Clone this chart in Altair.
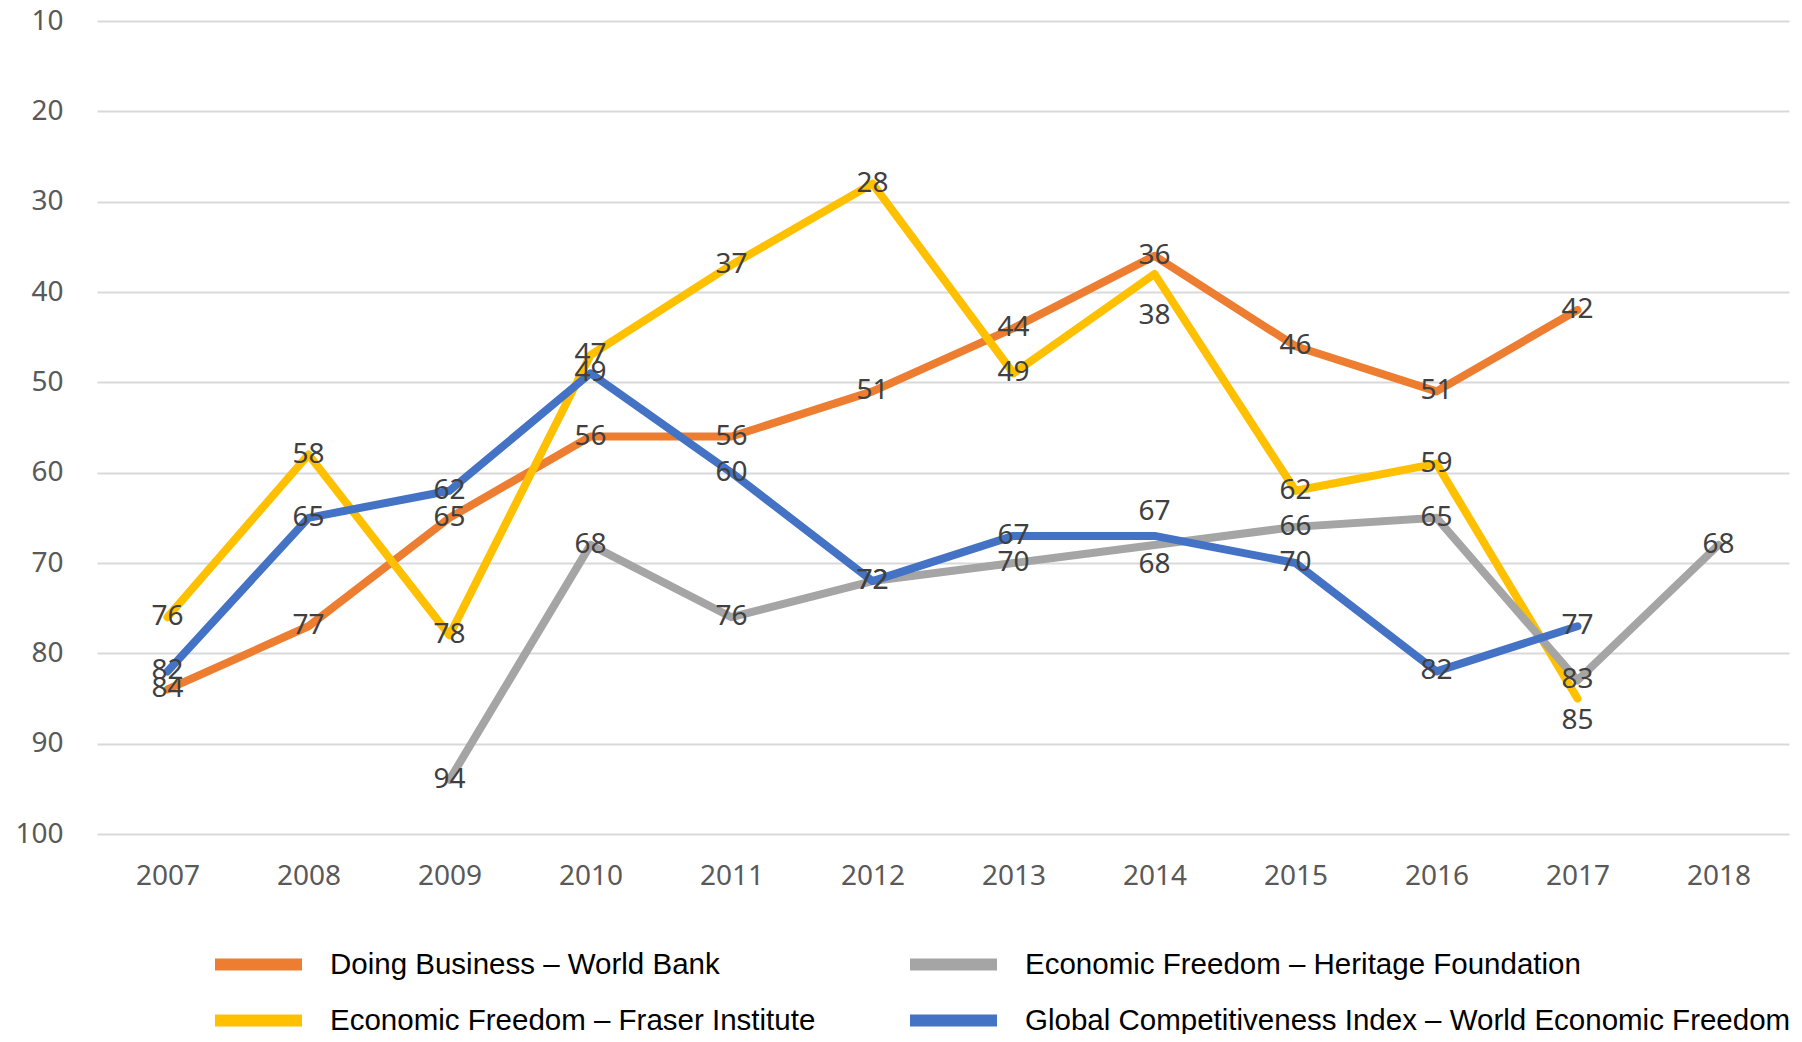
import altair as alt
import pandas as pd

years = [2007, 2008, 2009, 2010, 2011, 2012, 2013, 2014, 2015, 2016, 2017, 2018]

series_names = [
    "Doing Business – World Bank",
    "Economic Freedom – Fraser Institute",
    "Economic Freedom – Heritage Foundation",
    "Global Competitiveness Index – World Economic Freedom",
]
doing_business = [84, 77, 65, 56, 56, 51, 44, 36, 46, 51, 42, None]
fraser_institute = [76, 58, 78, 47, 37, 28, 49, 38, 62, 59, 85, None]
heritage_foundation = [None, None, 94, 68, 76, 72, 70, 68, 66, 65, 83, 68]
global_competitiveness = [82, 65, 62, 49, 60, 72, 67, 67, 70, 82, 77, None]

series_colors = ["#ED7D31", "#FFC000", "#A5A5A5", "#4472C4"]

# legend entry placement (pixels, relative to plot origin): 2 x 2 grid
legend_pos = [(112, 894), (112, 950), (807, 894), (807, 950)]

# label nudges (pixels) for labels moved off their point in the original
label_dy = {
    (series_names[1], 2014): 42,
    (series_names[1], 2017): 22,
    (series_names[2], 2014): 20,
    (series_names[3], 2014): -24,
}

rows = []
for name, vals in zip(series_names, [doing_business, fraser_institute,
                                     heritage_foundation, global_competitiveness]):
    for yr, v in zip(years, vals):
        if v is not None:
            rows.append({"series": name, "year": str(yr), "value": v,
                         "dy": label_dy.get((name, yr), 0)})
df = pd.DataFrame(rows)

year_labels = [str(y) for y in years]

x_enc = alt.X("year:O", sort=year_labels,
              scale=alt.Scale(type="point", padding=0.5),
              axis=alt.Axis(title=None, labelAngle=0, ticks=False, domain=False,
                            labelFont="Noto Sans", labelFontSize=28,
                            labelColor="#595959", labelPadding=28, grid=False))
y_enc = alt.Y("value:Q",
              scale=alt.Scale(domain=[10, 100], reverse=True, nice=False, zero=False),
              axis=alt.Axis(title=None, values=list(range(10, 101, 10)), ticks=False,
                            domain=False, grid=True, gridColor="#D9D9D9", gridWidth=2,
                            labelFont="Noto Sans", labelFontSize=28,
                            labelColor="#595959", labelPadding=34))

base = alt.Chart(df)

line_layers = []
for name, color, (lx, ly) in zip(series_names, series_colors, legend_pos):
    line_layers.append(
        base.transform_filter(alt.datum.series == name)
        .mark_line(strokeWidth=8, strokeJoin="round", strokeCap="round")
        .encode(
            x=x_enc, y=y_enc,
            color=alt.Color("series:N",
                            scale=alt.Scale(domain=[name], range=[color]),
                            legend=alt.Legend(orient="none", legendX=lx, legendY=ly,
                                              title=None, symbolType="stroke",
                                              symbolSize=7569, symbolStrokeWidth=12,
                                              symbolOpacity=1,
                                              labelFont="Liberation Sans",
                                              labelFontSize=29.5, labelColor="#000000",
                                              labelLimit=1000, labelOffset=22)),
        )
    )

text_layers = []
for d in sorted(set(df["dy"])):
    text_layers.append(
        base.transform_filter(alt.datum.dy == int(d)).mark_text(
            font="Noto Sans", fontSize=28, color="#404040", dy=int(d),
            align="center", baseline="middle").encode(
            x=x_enc, y=y_enc, text=alt.Text("value:Q"))
    )

chart = alt.layer(*line_layers, *text_layers).resolve_scale(
    color="independent"
).properties(
    width=1692, height=813,
    autosize=alt.AutoSizeParams(type="none"),
    padding={"left": 89, "top": 13, "right": 5, "bottom": 200},
    background="white",
).configure_view(stroke=None)

chart.save("out.html", embed_options={"renderer": "svg", "actions": False})
